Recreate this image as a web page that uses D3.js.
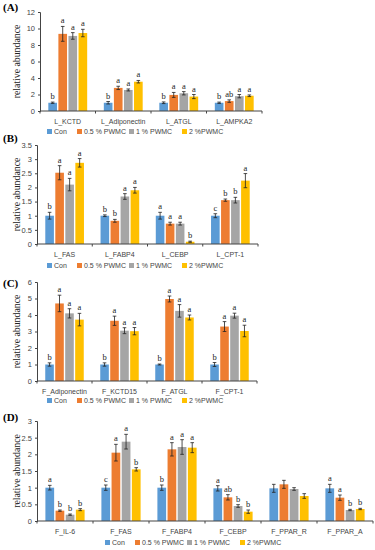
<!DOCTYPE html>
<meta charset="utf-8">
<script src="https://d3js.org/d3.v7.min.js"></script>
<style>
  body { margin: 0; background: #fff; }
  svg { display: block; }
</style>
<div id="my_dataviz"></div>
<script>

// series (legend) and colours
var series = ["Con", "0.5 % PWMC", "1 % PWMC", "2 %PWMC"];
var colors = ["#5B9BD5", "#ED7D31", "#A5A5A5", "#FFC000"];

// (A) liver
var catsA = ["L_KCTD", "L_Adiponectin", "L_ATGL", "L_AMPKA2"];
var valsA = [[1.0, 9.35, 9.1, 9.45], [1.0, 2.8, 2.55, 3.55], [1.0, 1.95, 2.15, 1.75], [1.0, 1.2, 1.8, 1.85]];
var errA  = [[0.08, 0.9, 0.4, 0.45], [0.15, 0.2, 0.12, 0.15], [0.1, 0.3, 0.2, 0.25], [0.08, 0.15, 0.2, 0.1]];
var sigA  = [["b","a","a","a"], ["b","a","a","a"], ["b","a","a","a"], ["b","ab","a","a"]];
var ticksA = [0, 2, 4, 6, 8, 10, 12];

// (B) liver
var catsB = ["L_FAS", "L_FABP4", "L_CEBP", "L_CPT-1"];
var valsB = [[1.0, 2.52, 2.1, 2.87], [1.0, 0.82, 1.68, 1.9], [1.0, 0.72, 0.72, 0.08], [1.0, 1.55, 1.55, 2.24]];
var errB  = [[0.12, 0.25, 0.22, 0.15], [0.03, 0.05, 0.1, 0.1], [0.12, 0.05, 0.05, 0.02], [0.07, 0.04, 0.1, 0.25]];
var sigB  = [["b","a","a","a"], ["b","b","a","a"], ["a","a","a","b"], ["c","b","b","a"]];
var ticksB = [0, 0.5, 1, 1.5, 2, 2.5, 3, 3.5];

// (C) fat
var catsC = ["F_Adiponectin", "F_KCTD15", "F_ATGL", "F_CPT-1"];
var valsC = [[1.0, 4.7, 4.1, 3.72], [1.0, 3.65, 3.05, 3.02], [1.0, 4.97, 4.25, 3.85], [1.0, 3.3, 3.96, 3.03]];
var errC  = [[0.1, 0.5, 0.28, 0.38], [0.1, 0.28, 0.18, 0.22], [0.03, 0.18, 0.38, 0.15], [0.12, 0.3, 0.15, 0.35]];
var sigC  = [["b","a","a","a"], ["b","a","a","a"], ["b","a","a","a"], ["b","a","a","a"]];
var ticksC = [0, 1, 2, 3, 4, 5, 6];

// (D) fat
var catsD = ["F_IL-6", "F_FAS", "F_FABP4", "F_CEBP", "F_PPAR_R", "F_PPAR_A"];
var valsD = [[1.0, 0.31, 0.19, 0.34], [1.0, 2.05, 2.38, 1.55], [1.0, 2.15, 2.22, 2.2],
             [0.98, 0.71, 0.45, 0.28], [0.98, 1.1, 0.96, 0.75], [0.98, 0.7, 0.33, 0.36]];
var errD  = [[0.07, 0.02, 0.02, 0.03], [0.08, 0.25, 0.22, 0.05], [0.08, 0.2, 0.22, 0.15],
             [0.08, 0.08, 0.04, 0.05], [0.12, 0.12, 0.04, 0.07], [0.12, 0.08, 0.02, 0.02]];
var sigD  = [["a","b","b","b"], ["c","a","a","b"], ["b","a","a","a"],
             ["a","ab","b","b"], ["","","",""], ["a","a","b","b"]];
var ticksD = [0, 0.5, 1, 1.5, 2, 2.5, 3];

var width = 375, height = 550;

var svg = d3.select("#my_dataviz")
  .append("svg")
    .attr("width", width)
    .attr("height", height);

// panel layout (pixel boxes only)
var panels = [
  {tag: "(A)", tagY: 11,  cats: catsA, vals: valsA, err: errA, sig: sigA, ticks: ticksA,
   left: 40, right: 262, top: 12,  bottom: 111, legendX: 47,  legendY: 134},
  {tag: "(B)", tagY: 142, cats: catsB, vals: valsB, err: errB, sig: sigB, ticks: ticksB,
   left: 37, right: 258, top: 145, bottom: 244, legendX: 47,  legendY: 268},
  {tag: "(C)", tagY: 287, cats: catsC, vals: valsC, err: errC, sig: sigC, ticks: ticksC,
   left: 37, right: 257, top: 282, bottom: 381, legendX: 47,  legendY: 403},
  {tag: "(D)", tagY: 421, cats: catsD, vals: valsD, err: errD, sig: sigD, ticks: ticksD,
   left: 37, right: 373, top: 421, bottom: 521, legendX: 105, legendY: 545}
];

panels.forEach(function(p) {
  var g = svg.append("g");

  var x0 = d3.scaleBand()
    .domain(p.cats)
    .range([p.left, p.right])
    .padding(0);
  var bw = x0.bandwidth();
  var x1 = d3.scaleBand()
    .domain(d3.range(series.length))
    .range([bw * 0.15, bw * 0.85])
    .paddingInner(0.14);
  var y = d3.scaleLinear()
    .domain([0, d3.max(p.ticks)])
    .range([p.bottom, p.top]);

  // panel letter
  g.append("text")
    .attr("x", 3)
    .attr("y", p.tagY)
    .attr("font-family", "Liberation Serif, serif")
    .attr("font-weight", "bold")
    .attr("font-size", 11)
    .text(p.tag);

  // y title
  g.append("text")
    .attr("transform", "translate(20," + ((p.top + p.bottom) / 2) + ") rotate(-90)")
    .attr("text-anchor", "middle")
    .attr("font-family", "Liberation Serif, serif")
    .attr("font-size", 9.8)
    .attr("fill", "#222")
    .text("relative abundance");

  // y axis
  var yAxis = g.append("g")
    .attr("transform", "translate(" + p.left + ",0)")
    .call(d3.axisLeft(y).tickValues(p.ticks).tickSize(2).tickPadding(3).tickFormat(d3.format("~g")));
  yAxis.select(".domain").attr("stroke", "#444");
  yAxis.selectAll(".tick line").attr("stroke", "#444");
  yAxis.selectAll("text")
    .attr("font-family", "Liberation Sans, Arial, sans-serif")
    .attr("font-size", 7.5)
    .attr("fill", "#444");

  // bars
  var groups = g.selectAll(".grp")
    .data(p.cats)
    .enter()
    .append("g")
    .attr("transform", function(d) { return "translate(" + x0(d) + ",0)"; });

  groups.each(function(cat, ci) {
    var rows = series.map(function(s, si) {
      return {si: si, v: p.vals[ci][si], e: p.err[ci][si], s: p.sig[ci][si]};
    });
    var gg = d3.select(this);

    gg.selectAll("rect")
      .data(rows)
      .enter()
      .append("rect")
        .attr("x", function(d) { return x1(d.si); })
        .attr("y", function(d) { return y(d.v); })
        .attr("width", x1.bandwidth())
        .attr("height", function(d) { return y(0) - y(d.v); })
        .attr("fill", function(d) { return colors[d.si]; });

    // error bars
    var cx = function(d) { return x1(d.si) + x1.bandwidth() / 2; };
    gg.selectAll(".eb")
      .data(rows)
      .enter()
      .append("path")
        .attr("fill", "none")
        .attr("stroke", "#222")
        .attr("stroke-width", 0.8)
        .attr("d", function(d) {
          var c = cx(d), hi = y(d.v + d.e), lo = y(Math.max(0, d.v - d.e)), w = 1.8;
          return "M" + c + "," + lo + "V" + hi +
                 "M" + (c - w) + "," + hi + "H" + (c + w) +
                 "M" + (c - w) + "," + lo + "H" + (c + w);
        });

    // significance letters
    gg.selectAll(".sig")
      .data(rows)
      .enter()
      .append("text")
        .attr("x", cx)
        .attr("y", function(d) { return y(d.v + d.e) - 3; })
        .attr("text-anchor", "middle")
        .attr("font-family", "Liberation Serif, serif")
        .attr("font-size", 8.5)
        .attr("fill", "#222")
        .text(function(d) { return d.s; });
  });

  // x axis line with category boundary ticks
  g.append("line")
    .attr("x1", p.left).attr("x2", p.right)
    .attr("y1", p.bottom).attr("y2", p.bottom)
    .attr("stroke", "#444");
  g.selectAll(".bt")
    .data(p.cats.concat(["_end"]))
    .enter()
    .append("line")
      .attr("x1", function(d, i) { return p.left + i * bw; })
      .attr("x2", function(d, i) { return p.left + i * bw; })
      .attr("y1", p.bottom)
      .attr("y2", p.bottom + 2.5)
      .attr("stroke", "#444");

  // category labels
  g.selectAll(".cl")
    .data(p.cats)
    .enter()
    .append("text")
      .attr("x", function(d) { return x0(d) + bw / 2; })
      .attr("y", p.bottom + 13)
      .attr("text-anchor", "middle")
      .attr("font-family", "Liberation Sans, Arial, sans-serif")
      .attr("font-size", 7)
      .attr("fill", "#444")
      .text(function(d) { return d; });

  // legend
  var offs = [0, 30, 82, 135];
  var lg = g.append("g").attr("transform", "translate(" + p.legendX + "," + p.legendY + ")");
  series.forEach(function(s, i) {
    lg.append("rect")
      .attr("x", offs[i]).attr("y", -5)
      .attr("width", 5).attr("height", 5)
      .attr("fill", colors[i]);
    lg.append("text")
      .attr("x", offs[i] + 7).attr("y", 0)
      .attr("font-family", "Liberation Sans, Arial, sans-serif")
      .attr("font-size", 7)
      .attr("fill", "#444")
      .text(s);
  });
});

</script>
